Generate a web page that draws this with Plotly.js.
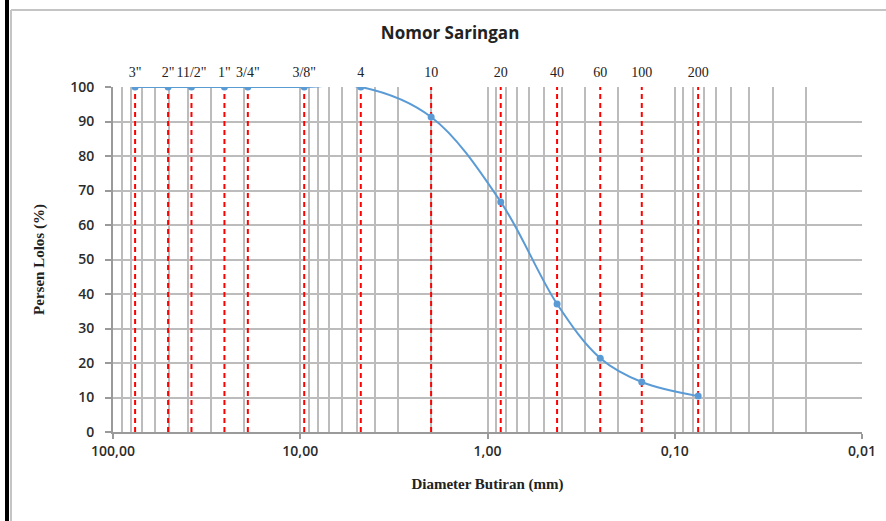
<!DOCTYPE html>
<html>
<head>
<meta charset="utf-8">
<script src="https://cdn.plot.ly/plotly-3.0.1.min.js"></script>
<style>html,body{margin:0;padding:0;background:#fff;}#chart{width:886px;height:521px;}</style>
</head>
<body>
<div id="chart"></div>
<script>
// Sieve data (sizes in mm, percent passing)
const sieveLabels = ['3"', '2"', '11/2"', '1"', '3/4"', '3/8"', '4', '10', '20', '40', '60', '100', '200'];
const sieveSizes  = [76.2, 50.8, 38.1, 25.4, 19.05, 9.525, 4.75, 2.0, 0.85, 0.425, 0.25, 0.15, 0.075];
const percentPassing = [100, 100, 100, 100, 100, 100, 100, 91.3, 66.7, 37.1, 21.4, 14.5, 10.4];
const majorTickVals = [100, 10, 1, 0.1, 0.01];
const majorTickText = ['100,00', '10,00', '1,00', '0,10', '0,01'];

// minor gridline positions (2..9 x 10^n)
const minorVals = [];
for (let e = -2; e < 2; e++) {
  for (let m = 2; m <= 9; m++) minorVals.push(m * Math.pow(10, e));
}

// red dashed sieve lines
const rx = [], ry = [];
sieveSizes.forEach(d => { rx.push(d, d, null); ry.push(0, 100, null); });

const gridCol = '#bcbcbc';
const tickFont = {family: 'Open Sans, sans-serif', size: 14, color: '#2b2b2b', weight: 600};

const traces = [
  {x: rx, y: ry, xaxis: 'x', yaxis: 'y', mode: 'lines', type: 'scatter',
   line: {color: '#ff0000', width: 2, dash: '5px,4px'}, hoverinfo: 'skip', showlegend: false},
  {x: sieveSizes, y: percentPassing, xaxis: 'x2', yaxis: 'y', mode: 'lines+markers', type: 'scatter',
   line: {color: '#5b9bd5', width: 2, shape: 'spline', smoothing: 1},
   marker: {color: '#5b9bd5', size: 7}, showlegend: false}
];

const P = (px) => (px - 113) / 749;
const Q = (py) => (432 - py) / 345;

const layout = {
  width: 886, height: 521,
  margin: {l: 113, r: 24, t: 87, b: 89},
  paper_bgcolor: '#fff', plot_bgcolor: '#fff',
  showlegend: false,
  title: {text: 'Nomor Saringan', xref: 'container', yref: 'container', x: 0.508, y: 1 - 33/521,
          xanchor: 'center', yanchor: 'middle',
          font: {family: 'Open Sans, sans-serif', size: 17, color: '#222', weight: 700}},
  xaxis: {type: 'log', range: [2, -2], autorange: false,
          tickmode: 'array', tickvals: majorTickVals, ticktext: majorTickText,
          showgrid: true, gridcolor: gridCol, gridwidth: 2,
          minor: {tickmode: 'array', tickvals: minorVals, showgrid: true, gridcolor: gridCol, gridwidth: 2, ticks: ''},
          showline: true, linecolor: '#9a9a9a', linewidth: 2,
          ticks: 'outside', ticklen: 5, tickcolor: '#9a9a9a', tickwidth: 2,
          tickfont: tickFont, zeroline: false,
          title: {text: 'Diameter Butiran (mm)', standoff: 20,
                  font: {family: 'Liberation Serif, Times New Roman, serif', size: 15, color: '#222', weight: 700}}},
  xaxis2: {type: 'log', range: [2, -2], autorange: false, overlaying: 'x', side: 'top',
           tickmode: 'array', tickvals: sieveSizes, ticktext: sieveLabels, tickangle: 0,
           showgrid: false, showline: false, ticks: '', zeroline: false,
           ticklabelstandoff: 6,
           tickfont: {family: 'Liberation Serif, Times New Roman, serif', size: 14, color: '#222'}},
  yaxis: {range: [0, 100], autorange: false, dtick: 10, tick0: 0,
          showgrid: true, gridcolor: gridCol, gridwidth: 2,
          showline: true, linecolor: '#9a9a9a', linewidth: 2,
          ticks: 'outside', ticklen: 6, tickcolor: '#9a9a9a', tickwidth: 2,
          tickfont: tickFont, zeroline: false, ticklabelstandoff: 8,
          title: {text: 'Persen Lolos (%)', standoff: 22,
                  font: {family: 'Liberation Serif, Times New Roman, serif', size: 15, color: '#222', weight: 700}}},
  shapes: [
    {type: 'line', xref: 'paper', yref: 'paper', x0: P(7), x1: P(7), y0: Q(0), y1: Q(521),
     line: {color: '#000', width: 4}},
    {type: 'line', xref: 'paper', yref: 'paper', x0: P(11), x1: P(11), y0: Q(10), y1: Q(521),
     line: {color: '#c4c4c4', width: 2}},
    {type: 'line', xref: 'paper', yref: 'paper', x0: P(11), x1: P(886), y0: Q(10), y1: Q(10),
     line: {color: '#c4c4c4', width: 2}}
  ]
};

Plotly.newPlot('chart', traces, layout, {displayModeBar: false, staticPlot: true});
</script>
</body>
</html>
